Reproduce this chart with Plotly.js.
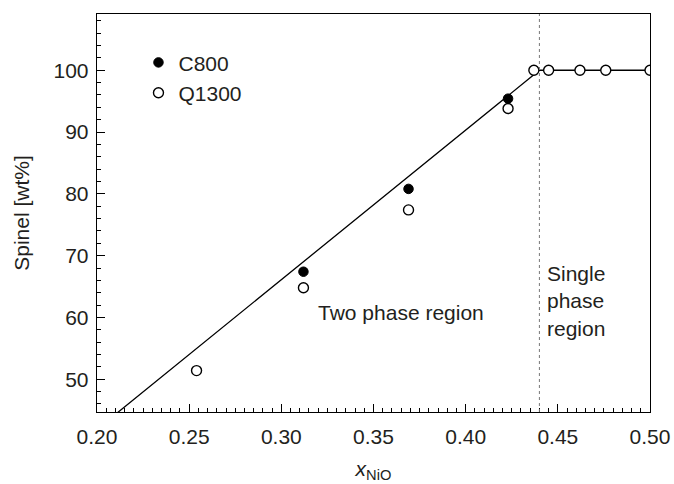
<!DOCTYPE html>
<html>
<head>
<meta charset="utf-8">
<script src="https://cdn.plot.ly/plotly-3.0.1.min.js"></script>
<style>html,body{margin:0;padding:0;background:#fff;}#chart{width:674px;height:484px;}</style>
</head>
<body>
<div id="chart"></div>
<script>
// Data
const c800X = [0.312, 0.369, 0.423];
const c800Y = [67.4, 80.8, 95.4];
const q1300X = [0.254, 0.312, 0.369, 0.423, 0.437, 0.445, 0.462, 0.476, 0.500];
const q1300Y = [51.4, 64.8, 77.4, 93.8, 100, 100, 100, 100, 100];
const fitX = [0.20, 0.44, 0.50];
const fitY = [41.9, 100, 100];
const boundaryX = 0.44;
const xTickVals = [0.20, 0.25, 0.30, 0.35, 0.40, 0.45, 0.50];
const xTickText = ["0.20", "0.25", "0.30", "0.35", "0.40", "0.45", "0.50"];
const yTickVals = [50, 60, 70, 80, 90, 100];
const yTickText = ["50", "60", "70", "80", "90", "100"];

const txt = '#231f20';
const font = {family: 'Liberation Sans, Arial, sans-serif', size: 21, color: txt};

const traces = [
  {x: fitX, y: fitY, mode: 'lines', line: {color: '#000', width: 1.3}, showlegend: false, hoverinfo: 'skip'},
  {x: c800X, y: c800Y, mode: 'markers', name: 'C800',
   marker: {symbol: 'circle', size: 9.5, color: '#000', line: {color: '#000', width: 1}}},
  {x: q1300X, y: q1300Y, mode: 'markers', name: 'Q1300',
   marker: {symbol: 'circle', size: 10, color: '#fff', line: {color: '#000', width: 1.4}}}
];

const layout = {
  width: 674, height: 484,
  margin: {l: 97, r: 24, t: 14, b: 72},
  paper_bgcolor: '#fff', plot_bgcolor: '#fff',
  font: font,
  showlegend: true,
  legend: {x: 0.075, y: 0.929, xanchor: 'left', yanchor: 'top', bgcolor: 'rgba(0,0,0,0)',
           font: font, itemwidth: 30, tracegroupgap: 0},
  xaxis: {
    range: [0.20, 0.50], tickvals: xTickVals, ticktext: xTickText,
    ticks: 'inside', ticklen: 8, tickwidth: 1, tickcolor: '#000',
    minor: {dtick: 0.005, ticks: 'inside', ticklen: 4, tickwidth: 1, tickcolor: '#000', showgrid: false},
    showline: true, linecolor: '#000', linewidth: 1.3, mirror: true,
    showgrid: false, zeroline: false, tickfont: font, ticklabelstandoff: 5,
    title: {text: '<i>x</i><sub>NiO</sub>', font: font, standoff: 14}
  },
  yaxis: {
    range: [44.7, 109.1], tickvals: yTickVals, ticktext: yTickText,
    ticks: 'inside', ticklen: 8, tickwidth: 1, tickcolor: '#000',
    minor: {dtick: 2, ticks: 'inside', ticklen: 4, tickwidth: 1, tickcolor: '#000', showgrid: false},
    showline: true, linecolor: '#000', linewidth: 1.3, mirror: true,
    showgrid: false, zeroline: false, tickfont: font, ticklabelstandoff: 3,
    title: {text: 'Spinel [wt%]', font: font, standoff: 18}
  },
  shapes: [
    {type: 'line', xref: 'x', yref: 'paper', x0: boundaryX, x1: boundaryX, y0: 0, y1: 1,
     line: {color: '#777', width: 1, dash: 'dot'}}
  ],
  annotations: [
    {xref: 'x', yref: 'y', x: 0.3647, y: 60.8, text: 'Two phase region', showarrow: false,
     font: font, xanchor: 'center', yanchor: 'middle'},
    {xref: 'x', yref: 'y', x: 0.4433, y: 62.7, text: 'Single<br>phase<br>region', showarrow: false,
     font: font, xanchor: 'left', yanchor: 'middle', align: 'left'}
  ]
};

Plotly.newPlot('chart', traces, layout, {displayModeBar: false, staticPlot: true});
</script>
</body>
</html>
